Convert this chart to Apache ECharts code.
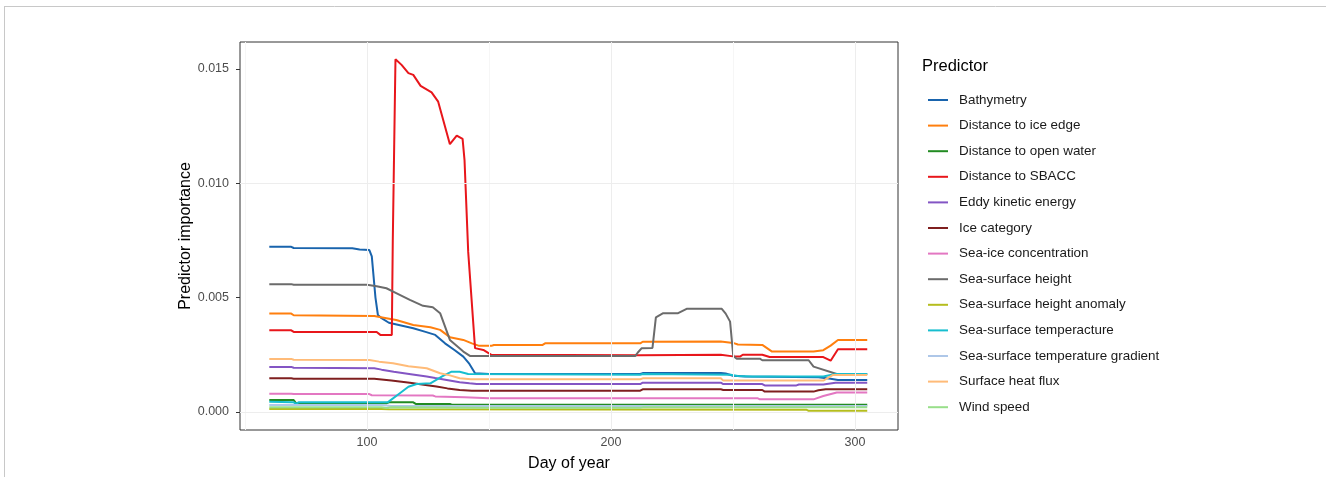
<!DOCTYPE html>
<html>
<head>
<meta charset="utf-8">
<script src="https://cdn.jsdelivr.net/npm/echarts@6/dist/echarts.min.js"></script>
<style>
  html, body { margin: 0; padding: 0; background: #fff; }
  #chart { width: 1326px; height: 477px; }
</style>
</head>
<body>
<div id="chart"></div>
<script>
// ---- Data (day of year, predictor importance) ----
const seriesNames = [
  'Bathymetry', 'Distance to ice edge', 'Distance to open water', 'Distance to SBACC',
  'Eddy kinetic energy', 'Ice category', 'Sea-ice concentration', 'Sea-surface height',
  'Sea-surface height anomaly', 'Sea-surface temperacture', 'Sea-surface temperature gradient',
  'Surface heat flux', 'Wind speed'
];

const bathymetry = [[60,0.00723],[69,0.00722],[70,0.00717],[94,0.00716],[97,0.0071],[101,0.00708],[102,0.0068],[103.5,0.005],[104.5,0.00424],[106,0.0041],[109,0.0039],[114,0.00378],[119,0.00366],[124,0.0035],[128,0.00337],[132,0.003],[136,0.0027],[139.5,0.00242],[142,0.0021],[144.3,0.00169],[150,0.00166],[212,0.00166],[213,0.0017],[245,0.0017],[247,0.00168],[250,0.00158],[255,0.00155],[285,0.00152],[290,0.00145],[293,0.0014],[305,0.0014]];
const iceEdge = [[60,0.0043],[69,0.0043],[70,0.00423],[103,0.0042],[108,0.0041],[112,0.00402],[119,0.0038],[126,0.0037],[130,0.00359],[134,0.00327],[139.5,0.00315],[143,0.003],[146,0.00289],[151,0.00289],[152,0.00293],[172,0.00293],[173,0.003],[212,0.003],[213,0.00307],[245,0.00308],[250,0.00302],[252,0.00295],[262,0.00293],[266,0.00264],[283,0.00264],[287,0.0027],[290,0.0029],[293,0.00315],[305,0.00315]];
const openWater = [[60,0.00052],[70,0.00052],[71,0.00038],[108,0.00038],[109,0.00042],[119,0.00042],[120,0.00035],[134,0.00035],[135,0.00031],[305,0.00031]];
const sbacc = [[60,0.00357],[69,0.00357],[70,0.0035],[104,0.0035],[105.5,0.00337],[110.2,0.00337],[110.6,0.0075],[111.7,0.01543],[114.2,0.01518],[117,0.01482],[119,0.01474],[122,0.01426],[126.5,0.01398],[129.2,0.01357],[134,0.01171],[136.8,0.01209],[139.2,0.01194],[140,0.011],[141.5,0.007],[144.3,0.00279],[147.7,0.00271],[151,0.0025],[212,0.00248],[245,0.0025],[250,0.00243],[253,0.00243],[254,0.0025],[262,0.0025],[265,0.0024],[287,0.0024],[290,0.00224],[293,0.00274],[305,0.00274]];
const eddy = [[60,0.00197],[69,0.00197],[70,0.00193],[103,0.00191],[106,0.00185],[111,0.00176],[118,0.00165],[124.5,0.00155],[128,0.00148],[132.7,0.0014],[138,0.0013],[142,0.00125],[145,0.00122],[212,0.00122],[213,0.00128],[245,0.00128],[246,0.00122],[262,0.00122],[263,0.00116],[276,0.00116],[277,0.0012],[287,0.0012],[292,0.00128],[305,0.00128]];
const iceCategory = [[60,0.00147],[69,0.00147],[70,0.00145],[103,0.00145],[105,0.00143],[110,0.00137],[117.6,0.00128],[124,0.00118],[128.5,0.00111],[133,0.00103],[138,0.00096],[143,0.00093],[212,0.00093],[213,0.00099],[245,0.00099],[246,0.00096],[262,0.00096],[263,0.00089],[283,0.00089],[285,0.00095],[288,0.00099],[305,0.00099]];
const seaIceConc = [[60,0.0008],[69,0.0008],[70,0.00078],[101,0.00078],[102,0.00073],[127,0.00072],[128,0.00068],[140,0.00064],[150,0.0006],[260,0.0006],[261,0.00055],[283,0.00055],[287,0.0007],[292.5,0.00085],[305,0.00085]];
const ssh = [[60,0.00559],[69,0.00559],[70,0.00556],[100,0.00556],[104,0.0055],[108,0.00541],[112,0.0052],[117.6,0.0049],[123,0.00464],[127,0.00458],[130,0.00432],[134,0.00315],[139.5,0.00264],[142.2,0.00245],[210,0.00245],[211,0.0026],[212.6,0.00279],[217,0.0028],[218.4,0.00414],[221.4,0.00432],[227.5,0.00432],[231,0.00451],[245.4,0.00451],[247,0.0043],[248.8,0.00395],[250.1,0.00245],[251.5,0.00233],[261,0.00233],[262,0.00226],[281,0.00226],[283,0.00198],[292.5,0.00166],[305,0.00166]];
const sshAnomaly = [[60,0.00013],[106,0.00013],[109,0.00012],[280,0.0001],[281,0.00005],[305,0.00005]];
const sst = [[60,0.00045],[70,0.00042],[71,0.00035],[72,0.00042],[108.5,0.00042],[113.5,0.00082],[117,0.0011],[120.4,0.00122],[126,0.00125],[131,0.00157],[134.7,0.00176],[138,0.00176],[141.5,0.00166],[212,0.00163],[213,0.00166],[249,0.00163],[252,0.00157],[258,0.00155],[287,0.00155],[292,0.00166],[305,0.00166]];
const sstGradient = [[60,0.0003],[106,0.0003],[110,0.00026],[305,0.00026]];
const heatFlux = [[60,0.00232],[69,0.00232],[70,0.00228],[101,0.00227],[105,0.0022],[110.7,0.00213],[117,0.002],[124.5,0.00191],[130,0.00169],[134,0.0016],[138,0.00147],[142.6,0.00143],[212,0.00143],[213,0.00147],[245,0.00147],[246,0.00137],[287,0.00137],[291,0.00162],[305,0.00162]];
const windSpeed = [[60,0.0002],[106,0.0002],[108,0.00017],[110,0.0002],[145,0.00018],[212,0.00018],[213,0.0002],[305,0.0002]];

const seriesData = [bathymetry, iceEdge, openWater, sbacc, eddy, iceCategory, seaIceConc, ssh, sshAnomaly, sst, sstGradient, heatFlux, windSpeed];
const colors = ['#1964AD','#FF7F0E','#228B22','#E8161B','#8355C4','#7F1F1F','#E377C2','#6B6B6B','#B5BD1E','#17BECF','#AEC7E8','#FFBB78','#98DF8A'];

const xTicks = [100, 200, 300];
const xMinor = [50, 150, 250];
const yTicks = [0, 0.005, 0.010, 0.015];
const yMinor = [0.0025, 0.0075, 0.0125];

const chart = echarts.init(document.getElementById('chart'), null, { renderer: 'canvas' });

const gridLine = (axis, v, color) => ({ [axis]: v, lineStyle: { color: color, width: 1, type: 'solid' } });

const series = [{
  name: '__grid',
  type: 'line',
  data: [],
  z: 1,
  silent: true,
  markLine: {
    silent: true,
    symbol: ['none', 'none'],
    label: { show: false },
    emphasis: { disabled: true },
    animation: false,
    data: [
      ...xMinor.map(v => gridLine('xAxis', v, '#F6F6F6')),
      ...yMinor.map(v => gridLine('yAxis', v, '#F6F6F6')),
      ...xTicks.map(v => gridLine('xAxis', v, '#EDEDED')),
      ...yTicks.map(v => gridLine('yAxis', v, '#EDEDED'))
    ]
  }
}];
seriesData.forEach((d, i) => {
  series.push({
    name: seriesNames[i],
    type: 'line',
    data: d,
    showSymbol: false,
    symbol: 'none',
    z: 2,
    color: colors[i],
    lineStyle: { width: 2, color: colors[i] },
    emphasis: { disabled: true },
    animation: false
  });
});

chart.setOption({
  backgroundColor: '#ffffff',
  animation: false,
  textStyle: { fontFamily: '"Liberation Sans", Arial, sans-serif' },
  grid: { left: 240, right: 428, top: 42, bottom: 47, show: true, borderColor: '#333333', borderWidth: 1, backgroundColor: 'transparent' },
  title: {
    text: 'Predictor', left: 917, top: 53,
    textStyle: { fontSize: 16.5, fontWeight: 'normal', color: '#000', fontFamily: '"Liberation Sans", Arial, sans-serif' }
  },
  legend: {
    data: seriesNames,
    orient: 'vertical',
    left: 923, top: 88,
    icon: 'rect',
    itemWidth: 20, itemHeight: 2,
    itemGap: 11.6,
    textStyle: { fontSize: 13.4, color: '#1A1A1A', lineHeight: 14, padding: [0, 0, 0, 6], fontFamily: '"Liberation Sans", Arial, sans-serif' },
    selectedMode: false
  },
  xAxis: {
    type: 'value', min: 48, max: 317.6,
    name: 'Day of year', nameLocation: 'middle', nameGap: 26,
    nameTextStyle: { fontSize: 16, color: '#000' },
    axisLine: { show: false },
    axisTick: { show: true, customValues: xTicks, length: 4, lineStyle: { color: '#333' } },
    axisLabel: { customValues: xTicks, fontSize: 12.5, color: '#4D4D4D', margin: 6 },
    splitLine: { show: false }
  },
  yAxis: {
    type: 'value', min: -0.00079, max: 0.01618,
    name: 'Predictor importance', nameLocation: 'middle', nameGap: 45,
    nameTextStyle: { fontSize: 16, color: '#000' },
    axisLine: { show: false },
    axisTick: { show: true, customValues: yTicks, length: 4, lineStyle: { color: '#333' } },
    axisLabel: { customValues: yTicks, fontSize: 12.5, color: '#4D4D4D', margin: 11, formatter: v => v.toFixed(3) },
    splitLine: { show: false }
  },
  graphic: [
    { type: 'line', shape: { x1: 4, y1: 6.5, x2: 1326, y2: 6.5 }, style: { stroke: '#C8C8C8', lineWidth: 1 }, silent: true },
    { type: 'line', shape: { x1: 4.5, y1: 6, x2: 4.5, y2: 477 }, style: { stroke: '#C8C8C8', lineWidth: 1 }, silent: true }
  ],
  series: series
});
</script>
</body>
</html>
